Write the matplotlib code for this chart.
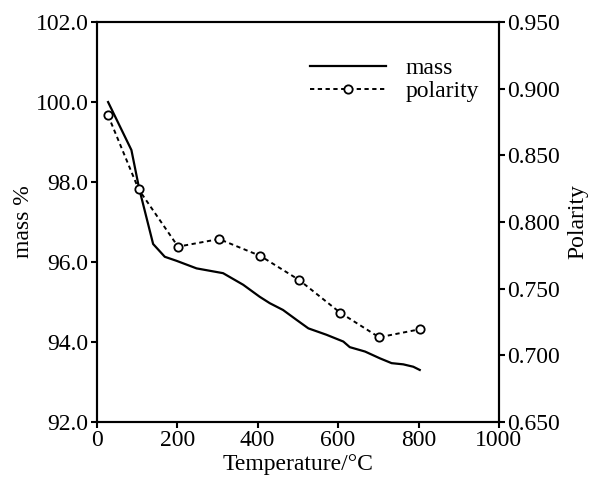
import numpy as np
import matplotlib.pyplot as plt

## data
mass_t = [28, 86, 105, 140, 169, 198, 248, 314, 364, 405, 430, 463, 497, 526,
          571, 613, 629, 667, 704, 733, 762, 787, 803]
mass_v = [100.0, 98.8, 97.85, 96.45, 96.13, 96.03, 95.84, 95.72, 95.43, 95.13,
          94.97, 94.8, 94.55, 94.34, 94.18, 94.01, 93.87, 93.76, 93.59, 93.47,
          93.44, 93.38, 93.3]
pol_t = [28, 104, 202, 304, 407, 503, 605, 702, 803]
pol_v = [0.880, 0.8245, 0.7815, 0.7872, 0.7745, 0.7565, 0.732, 0.7135, 0.7195]

mass_ticks = [92.0, 94.0, 96.0, 98.0, 100.0, 102.0]
pol_ticks = [0.65, 0.70, 0.75, 0.80, 0.85, 0.90, 0.95]
t_ticks = [0, 200, 400, 600, 800, 1000]

## style
plt.rcParams['font.family'] = ['Liberation Serif', 'DejaVu Serif']
plt.rcParams['font.size'] = 17

fig = plt.figure(figsize=(5.94, 4.8), dpi=100)
ax = fig.add_axes([0.163, 0.121, 0.677, 0.833])
ax2 = ax.twinx()

# mass curve
l1, = ax.plot(mass_t, mass_v, color='black', lw=1.6, label='mass')
# polarity curve
l2, = ax2.plot(pol_t, pol_v, color='black', lw=1.4, ls=(0, (2.2, 1.8)),
               marker='o', ms=6, mfc='white', mec='black', mew=1.3,
               label='polarity')

ax.set_xlim(0, 1000)
ax.set_ylim(92, 102)
ax2.set_ylim(0.65, 0.95)
ax.set_xticks(t_ticks)
ax.set_yticks(mass_ticks)
ax.set_yticklabels(["%.1f" % v for v in mass_ticks])
ax2.set_yticks(pol_ticks)
ax2.set_yticklabels(["%.3f" % v for v in pol_ticks])

for a in (ax, ax2):
    for s in a.spines.values():
        s.set_linewidth(1.5)
    a.tick_params(width=1.5, length=4, direction='out', pad=2)

ax.set_xlabel("Temperature/°C", labelpad=2)
ax.set_ylabel("mass %", labelpad=1)
ax2.set_ylabel("Polarity", labelpad=5)

ax.legend([l1, l2], ['mass', 'polarity'], loc='upper right',
          bbox_to_anchor=(0.98, 0.94), frameon=False, handlelength=3.2,
          handletextpad=0.85, labelspacing=0.05, borderpad=0)

fig.savefig("out.png", dpi=100)
